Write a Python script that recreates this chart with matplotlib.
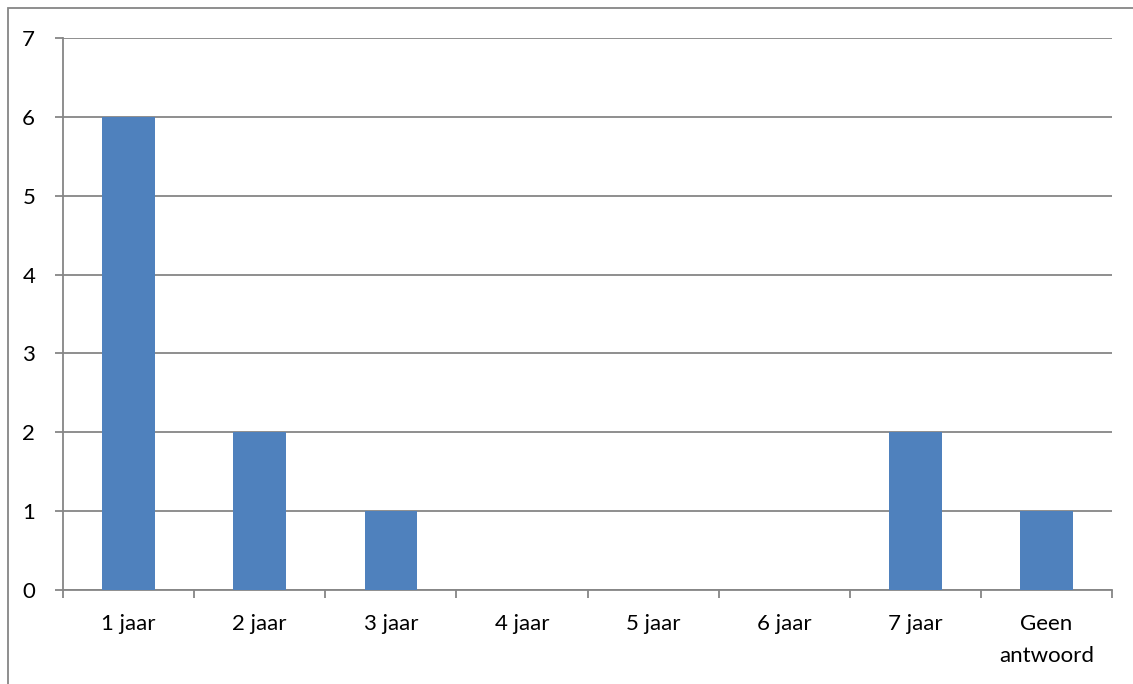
import numpy as np
import matplotlib
matplotlib.use("Agg")
import matplotlib.pyplot as plt
from matplotlib.patches import Rectangle

# data
categories = ["1 jaar", "2 jaar", "3 jaar", "4 jaar", "5 jaar", "6 jaar", "7 jaar", "Geen\nantwoord"]
counts = [6, 2, 1, 0, 0, 0, 2, 1]

plt.rcParams['font.family'] = ['Lato', 'DejaVu Sans']
grey = "#868686"

fig = plt.figure(figsize=(11.33, 6.84), dpi=100)
ax = fig.add_axes([63/1133, 1 - 590/684, (1112 - 63)/1133, (590 - 38)/684])

# outer chart border (only left and top visible)
fig.patches.append(Rectangle((8/1133, -0.1), 1.2, 1 - 8/684 + 0.1,
                             transform=fig.transFigure, fill=False,
                             edgecolor=grey, linewidth=1.3))

x = np.arange(len(categories))
ax.bar(x, counts, width=0.4, color="#4F81BD", zorder=3)

ax.set_xlim(-0.5, len(categories) - 0.5)
ax.set_ylim(0, 7)
ax.set_yticks(range(0, 8))
ax.set_xticks(x)
ax.set_xticklabels(categories, fontsize=16, linespacing=1.8)
ax.set_xticks(np.arange(-0.5, len(categories)), minor=True)
ax.tick_params(axis="x", which="major", length=0, pad=17)
ax.tick_params(axis="x", which="minor", length=6, color=grey, width=1.3, direction="out")
ax.tick_params(axis="y", length=6, color=grey, width=1.3, pad=14, labelsize=16)

ax.grid(axis="y", color=grey, linewidth=1.3, zorder=0)
for s in ["top", "right"]:
    ax.spines[s].set_visible(False)
for s in ["left", "bottom"]:
    ax.spines[s].set_color(grey)
    ax.spines[s].set_linewidth(1.3)

fig.savefig("out.png", dpi=100)
